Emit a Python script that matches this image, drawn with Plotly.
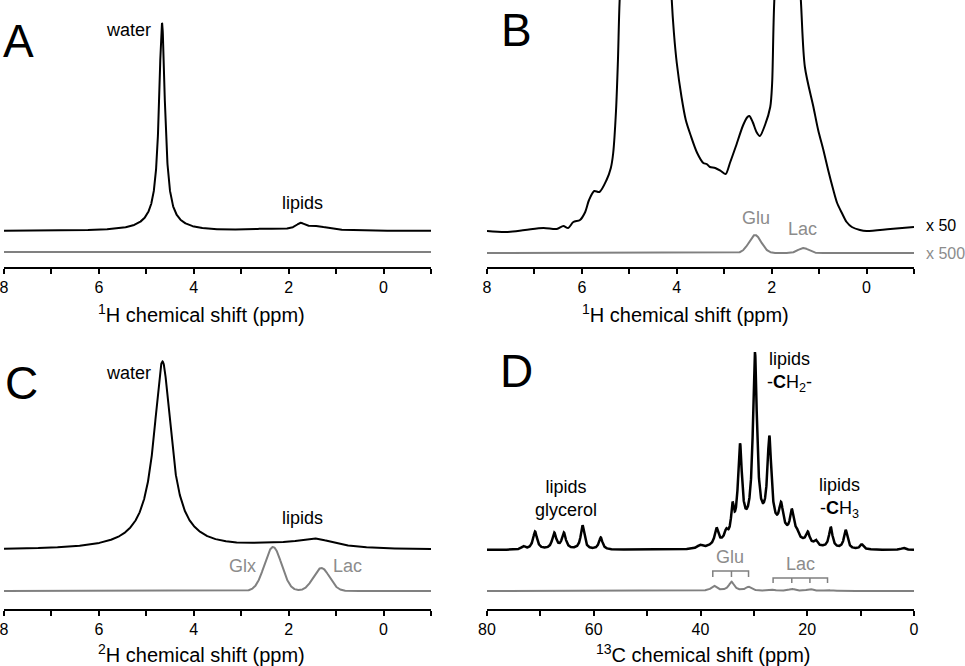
import numpy as np
import plotly.graph_objects as go

# ---------------- DATA ----------------
# Panel A : 1H spectrum, peaks (centre ppm, height, half width ppm)
a_peak_ppm = [4.67, 4.70, 1.75, 1.40, 2.50]
a_peak_height = [198, 10, 6, 4, 1.5]
a_peak_hwhm = [0.075, 0.35, 0.12, 0.30, 0.30]

b_ppm = [8.0, 7.6, 7.2, 6.81, 6.53, 6.39, 6.29, 6.18, 6.04, 5.93, 5.85, 5.74, 5.63,
         5.48, 5.39, 5.34, 5.28, 5.24, 5.20, 5.10, 4.65, 4.15, 4.11, 4.06, 4.00,
         3.90, 3.81, 3.71, 3.57, 3.44, 3.37, 3.30, 3.19, 3.07, 2.97, 2.88, 2.76,
         2.60, 2.51, 2.47, 2.40, 2.32, 2.25, 2.14, 2.03, 1.99, 1.94, 1.65, 1.39,
         1.30, 1.12, 1.02, 0.91, 0.81, 0.70, 0.62, 0.52, 0.42, 0.31, 0.14, 0.0,
         -0.5, -1.0]
b_int = [0, -1, 1, 3, 2, 5, 3, 9, 11, 19, 31, 40, 39,
         51, 63, 78, 121, 171, 235, 300, 420, 300, 235, 198, 168,
         134, 111, 96, 78, 68, 67, 64, 63, 60, 57, 68, 84,
         106, 114, 115, 109, 99, 95, 106, 124, 148, 235, 420, 235,
         164, 124, 101, 81, 61, 41, 28, 18, 9, 4, 1, 0,
         2, 4]
# Panel B : x500 metabolites (Glu, Lac)
b_met_ppm = [2.35, 1.33]
b_met_height = [18, 5]
b_met_sigma = [0.13, 0.11]

# Panel C : 2H spectrum
c_peak_ppm = [4.66, 4.66, 1.45, 2.40]
c_peak_height = [172, 16, 9, 3]
c_peak_hwhm = [0.21, 0.60, 0.50, 0.80]
c_met_ppm = [2.33, 1.31]          # Glx, Lac
c_met_height = [44, 23]
c_met_sigma = [0.18, 0.17]

# Panel D : 13C spectrum
d_peak_ppm = [73.2, 71.0, 67.4, 65.6, 62.1, 58.7, 40.1, 37.0, 35.2, 34.0, 32.6,
              29.8, 27.1, 24.9, 22.9, 22.0, 19.9, 18.4, 15.6, 12.8, 9.8, 2.0]
d_peak_height = [3, 18, 16, 16, 24, 12, 3, 16, 8, 27, 87,
                 174, 88, 25, 25, 6, 11, 5, 21, 19, 5, 2]
d_peak_hwhm = [0.4, 0.45, 0.45, 0.45, 0.4, 0.4, 0.5, 0.4, 0.35, 0.3, 0.45,
               0.45, 0.45, 0.45, 0.4, 0.4, 0.4, 0.35, 0.4, 0.4, 0.4, 0.4]
d_hump = (28.0, 20.0, 5.0)   # broad lipid background: centre, height, sigma
d_glu_ppm = [37.5, 34.2, 31.0]
d_glu_height = [5, 9, 4]
d_lac_ppm = [26.4, 22.9, 19.5, 16.2]
d_lac_height = [1, 2, 2, 1]

# axis ticks: labelled major ticks, unlabelled minor step
h_major_ticks = [8, 6, 4, 2, 0]
h_minor_step = 1
c_major_ticks = [80, 60, 40, 20, 0]
c_minor_step = 10

# ---------------- helpers ----------------
def lor(x, c, h, w):
    return h / (1.0 + ((x - c) / w) ** 2)

def gau(x, c, h, s):
    return h * np.exp(-((x - c) ** 2) / (2 * s * s))

def spectrum_lor(x, cs, hs, ws):
    y = np.zeros_like(x)
    for c, h, w in zip(cs, hs, ws):
        y += lor(x, c, h, w)
    return y

def spectrum_gau(x, cs, hs, ss):
    y = np.zeros_like(x)
    for c, h, s in zip(cs, hs, ss):
        y += gau(x, c, h, s)
    return y

BLACK = '#000000'
GRAY = '#808080'
GRAYTXT = '#8c8c8c'
FONT = 'Liberation Sans, Arial, Helvetica, sans-serif'

xh = np.linspace(8, -1, 3001)
xc = np.linspace(80, 0, 4001)

# vertical display offsets of the lower (gray) traces
A_GRAY_OFF = -21
B_GRAY_OFF = -22
C_GRAY_OFF = -41
D_GRAY_OFF = -41

fig = go.Figure()

# Panel A
fig.add_trace(go.Scatter(x=xh, y=spectrum_lor(xh, a_peak_ppm, a_peak_height, a_peak_hwhm),
                         mode='lines', line=dict(color=BLACK, width=2), xaxis='x', yaxis='y'))
fig.add_trace(go.Scatter(x=xh, y=np.zeros_like(xh) + A_GRAY_OFF, mode='lines',
                         line=dict(color=GRAY, width=2), xaxis='x', yaxis='y'))
# Panel B
fig.add_trace(go.Scatter(x=b_ppm, y=b_int, mode='lines', line=dict(color=BLACK, width=2, shape='spline', smoothing=0.8),
                         xaxis='x2', yaxis='y2'))
fig.add_trace(go.Scatter(x=xh, y=spectrum_gau(xh, b_met_ppm, b_met_height, b_met_sigma) + B_GRAY_OFF,
                         mode='lines', line=dict(color=GRAY, width=2), xaxis='x2', yaxis='y2'))
# Panel C
fig.add_trace(go.Scatter(x=xh, y=spectrum_lor(xh, c_peak_ppm, c_peak_height, c_peak_hwhm),
                         mode='lines', line=dict(color=BLACK, width=2), xaxis='x3', yaxis='y3'))
fig.add_trace(go.Scatter(x=xh, y=spectrum_gau(xh, c_met_ppm, c_met_height, c_met_sigma) + C_GRAY_OFF,
                         mode='lines', line=dict(color=GRAY, width=2), xaxis='x3', yaxis='y3'))
# Panel D
d_black = spectrum_lor(xc, d_peak_ppm, d_peak_height, d_peak_hwhm) + gau(xc, *d_hump)
fig.add_trace(go.Scatter(x=xc, y=d_black, mode='lines', line=dict(color=BLACK, width=2.5),
                         xaxis='x4', yaxis='y4'))
d_gray = (spectrum_lor(xc, d_glu_ppm, d_glu_height, [0.6] * len(d_glu_ppm)) +
          spectrum_lor(xc, d_lac_ppm, d_lac_height, [0.6] * len(d_lac_ppm)))
fig.add_trace(go.Scatter(x=xc, y=d_gray + D_GRAY_OFF, mode='lines', line=dict(color=GRAY, width=2),
                         xaxis='x4', yaxis='y4'))

# multiplet brackets in panel D
def bracket(peaks, ytop, ybot):
    xs, ys = [peaks[0], peaks[0], peaks[-1], peaks[-1], None], [ybot, ytop, ytop, ybot, None]
    for p in peaks[1:-1]:
        xs += [p, p, None]
        ys += [ytop, ybot, None]
    return xs, ys

for peaks, yt, yb in [([37.7, 34.2, 31.0], -21, -27), (d_lac_ppm, -28, -33)]:
    bx, by = bracket(peaks, yt, yb)
    fig.add_trace(go.Scatter(x=bx, y=by, mode='lines', line=dict(color=GRAY, width=1.5),
                             xaxis='x4', yaxis='y4'))

W, H = 965, 666
def xdom(a, b):
    return [a / W, b / W]
def ydom(top, bot):
    return [1 - bot / H, 1 - top / H]

def xax(dom, rng, major, minor_step, anchor):
    return dict(domain=dom, range=rng, anchor=anchor, tickmode='array', tickvals=major,
                ticktext=[str(v) for v in major], ticklabeloverflow='allow',
                ticks='outside', ticklen=5, tickwidth=2, tickcolor=BLACK, showline=True,
                minor=dict(dtick=minor_step, tick0=0, ticks='outside', ticklen=5, tickwidth=2,
                           tickcolor=BLACK, showgrid=False),
                linewidth=2, linecolor=BLACK, showgrid=False, zeroline=False, automargin=False,
                tickfont=dict(size=16, color=BLACK, family=FONT), fixedrange=True)

def yax(dom, rng, anchor):
    return dict(domain=dom, range=rng, anchor=anchor, visible=False, fixedrange=True,
                automargin=False)

fig.update_layout(
    width=W, height=H, margin=dict(l=0, r=0, t=0, b=0, autoexpand=False),
    paper_bgcolor='white', plot_bgcolor='white', showlegend=False,
    font=dict(family=FONT, color=BLACK),
    xaxis=xax(xdom(4, 431), [8, -1], h_major_ticks, h_minor_step, 'y'),
    yaxis=yax(ydom(0, 267), [-36, 231], 'x'),
    xaxis2=xax(xdom(487, 914), [8, -1], h_major_ticks, h_minor_step, 'y2'),
    yaxis2=yax(ydom(0, 267), [-36, 231], 'x2'),
    xaxis3=xax(xdom(4, 431), [8, -1], h_major_ticks, h_minor_step, 'y3'),
    yaxis3=yax(ydom(335, 609), [-59, 215], 'x3'),
    xaxis4=xax(xdom(487, 914), [80, 0], c_major_ticks, c_minor_step, 'y4'),
    yaxis4=yax(ydom(335, 609), [-59, 215], 'x4'),
)

ann = []
def paper_text(text, x, y, size, color=BLACK, xanchor='center'):
    ann.append(dict(text=text, x=x / W, y=1 - y / H, xref='paper', yref='paper', showarrow=False,
                    xanchor=xanchor, yanchor='middle', font=dict(size=size, color=color, family=FONT)))

def data_text(text, x, y, ax, size=18, color=BLACK):
    ann.append(dict(text=text, x=x, y=y, xref=ax[0], yref=ax[1], showarrow=False,
                    xanchor='center', yanchor='middle', font=dict(size=size, color=color, family=FONT)))

# panel letters
paper_text('A', 1, 41, 46, xanchor='left')
paper_text('B', 499, 30, 46, xanchor='left')
paper_text('C', 3, 383, 46, xanchor='left')
paper_text('D', 498, 371, 46, xanchor='left')
# axis titles
paper_text('<sup>1</sup>H chemical shift (ppm)', 201, 313, 20)
paper_text('<sup>1</sup>H chemical shift (ppm)', 685, 313, 20)
paper_text('<sup>2</sup>H chemical shift (ppm)', 201, 653, 20)
paper_text('<sup>13</sup>C chemical shift (ppm)', 703, 653, 20)
# scale factors
paper_text('x 50', 924, 225, 16, xanchor='left')
paper_text('x 500', 924, 253, 16, color=GRAYTXT, xanchor='left')

# peak labels
data_text('water', 5.38, 201, ('x', 'y'))
data_text('lipids', 1.70, 28, ('x', 'y'))
data_text('Glu', 2.33, 13, ('x2', 'y2'), color=GRAYTXT)
data_text('Lac', 1.34, 2, ('x2', 'y2'), color=GRAYTXT)
data_text('water', 5.38, 177, ('x3', 'y3'))
data_text('lipids', 1.70, 32, ('x3', 'y3'))
data_text('Glx', 2.98, -16, ('x3', 'y3'), color=GRAYTXT)
data_text('Lac', 0.75, -16, ('x3', 'y3'), color=GRAYTXT)
data_text('lipids<br>glycerol', 65.2, 52, ('x4', 'y4'))
data_text('lipids<br>-<b>C</b>H<sub>2</sub>-', 23.4, 178, ('x4', 'y4'))
data_text('lipids<br>-<b>C</b>H<sub>3</sub>', 13.9, 52, ('x4', 'y4'))
data_text('Glu', 34.5, -7, ('x4', 'y4'), color=GRAYTXT)
data_text('Lac', 21.2, -14, ('x4', 'y4'), color=GRAYTXT)

fig.update_layout(annotations=ann)
fig.write_html('out.html', config={'displayModeBar': False},
               post_script="document.body.style.margin='0';document.body.style.padding='0';"
                           "document.documentElement.style.overflow='hidden';")
